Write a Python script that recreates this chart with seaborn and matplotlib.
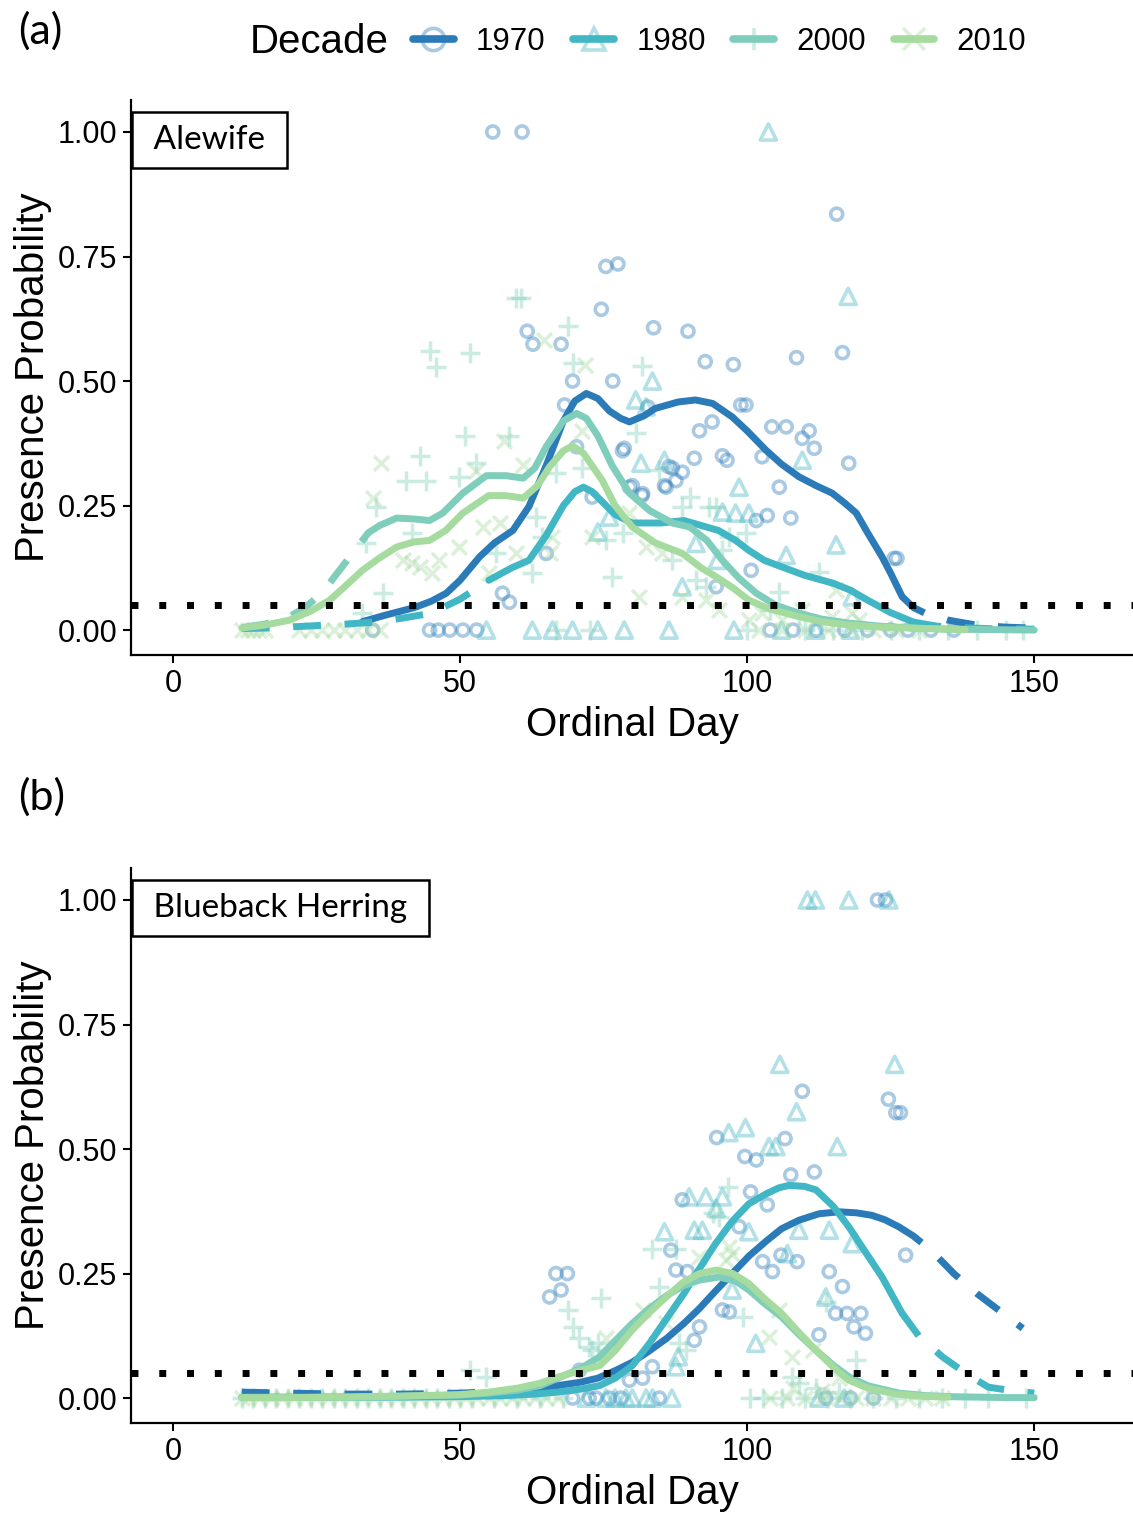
import numpy as np
import pandas as pd
import matplotlib
matplotlib.use("Agg")
import matplotlib.pyplot as plt
import seaborn as sns
from matplotlib.lines import Line2D

# decades and colours
decades = ["1970", "1980", "2000", "2010"]
colors = {"1970": "#2b7bb9", "1980": "#41b6c4", "2000": "#7fcdbb", "2010": "#a6dba0"}

# ---------------- panel (a) Alewife: fitted curves ----------------
a70_day = [33, 37, 42, 45, 47.6, 50, 53.4, 56, 59.2, 62, 65, 68, 70, 72, 74, 76, 78, 79.5, 82, 84, 88,
           91, 94, 97.4, 100, 103.3, 106, 109, 112, 114.8, 117, 119, 121, 123.5, 125, 127, 129, 131,
           135, 140, 145, 150]
a70_fit = [0.017, 0.03, 0.045, 0.058, 0.074, 0.10, 0.147, 0.175, 0.20, 0.248, 0.33, 0.42, 0.46, 0.475,
           0.465, 0.44, 0.425, 0.418, 0.43, 0.445, 0.458, 0.462, 0.455, 0.428, 0.40, 0.361, 0.333, 0.308,
           0.29, 0.275, 0.255, 0.235, 0.195, 0.147, 0.114, 0.067, 0.045, 0.034, 0.02, 0.01, 0.006, 0.004]
a80_day = [12, 16, 20, 25, 30, 35, 40, 45, 50, 55, 59, 62, 65, 68, 70, 71.5, 73, 75, 77, 80, 85, 89,
           92, 95, 98, 100.3, 103, 106, 110, 115, 118, 121, 125, 129, 133, 137, 142, 150]
a80_fit = [0.003, 0.004, 0.006, 0.009, 0.012, 0.016, 0.024, 0.034, 0.062, 0.10, 0.125, 0.14, 0.19, 0.25,
           0.278, 0.287, 0.278, 0.255, 0.232, 0.215, 0.215, 0.22, 0.21, 0.20, 0.18, 0.16, 0.14, 0.127,
           0.11, 0.094, 0.08, 0.06, 0.035, 0.016, 0.008, 0.005, 0.003, 0.002]
a00_day = [12, 16, 20, 23, 26, 29, 32, 34, 36, 39, 42, 44.7, 47, 50.5, 54.6, 58, 61, 63, 65, 68, 70.3,
           72, 74, 76.5, 79.5, 83, 87, 90, 93, 95.7, 98.5, 101.6, 105, 109, 113, 117.7, 123, 129, 135,
           142, 150]
a00_fit = [0.005, 0.012, 0.025, 0.045, 0.075, 0.12, 0.165, 0.195, 0.21, 0.225, 0.223, 0.22, 0.235,
           0.275, 0.31, 0.31, 0.305, 0.325, 0.368, 0.42, 0.435, 0.425, 0.39, 0.33, 0.275, 0.24, 0.215,
           0.207, 0.18, 0.14, 0.105, 0.074, 0.05, 0.034, 0.022, 0.014, 0.008, 0.004, 0.002, 0.001, 0.0]
a10_day = [12, 16, 20.3, 24, 27.3, 30, 33, 36, 39, 42, 44.7, 47.5, 50.5, 55, 58, 61, 63.5, 65.6, 68,
           69.6, 71.5, 74.8, 77, 80, 84, 88.7, 92, 94.6, 97.5, 100.3, 104, 109, 113, 117.7, 123, 129,
           134, 138]
a10_fit = [0.004, 0.01, 0.02, 0.038, 0.06, 0.088, 0.12, 0.145, 0.167, 0.177, 0.18, 0.2, 0.235, 0.27,
           0.27, 0.265, 0.29, 0.328, 0.36, 0.37, 0.355, 0.30, 0.25, 0.207, 0.175, 0.154, 0.125, 0.107,
           0.085, 0.06, 0.042, 0.027, 0.017, 0.01, 0.006, 0.004, 0.002, 0.001]
# observed day range of each decade (solid part of the curve)
a_obs = {"1970": (33, 127), "1980": (55, 129), "2000": (34, 150), "2010": (12, 138)}

# ---------------- panel (a) Alewife: observed proportions ----------------
a70_pt_day = [55.7, 60.8, 75.4, 77.5, 74.6, 61.7, 62.7, 67.6, 69.6, 76.6, 115.6, 116.6, 108.6, 83.7,
              89.7, 92.7, 97.6, 78.6, 68.2, 82.7, 86.4, 87.6, 85.6, 80, 81.8, 57.4, 58.6, 65, 70.3, 78.3,
              73, 98.9, 99.8, 91.7, 93.9, 104.3, 106.8, 110.8, 109.6, 111.7, 117.7, 90.8, 95.7, 96.5,
              102.6, 105.6, 87, 88.7, 85.9, 79.5, 81.7, 101.6, 103.5, 107.6, 125.6, 126.1, 94.6, 100.7,
              34.8, 44.7, 46.2, 48.2, 50.5, 52.9, 104, 108, 112, 117, 121, 125, 128, 132, 136]
a70_pt_p = [1.0, 1.0, 0.73, 0.735, 0.644, 0.60, 0.574, 0.574, 0.50, 0.50, 0.835, 0.557, 0.547, 0.607,
            0.60, 0.539, 0.533, 0.365, 0.452, 0.448, 0.328, 0.30, 0.29, 0.29, 0.274, 0.074, 0.056, 0.154,
            0.368, 0.36, 0.267, 0.452, 0.452, 0.40, 0.418, 0.408, 0.408, 0.40, 0.385, 0.365, 0.335, 0.345,
            0.35, 0.341, 0.348, 0.287, 0.325, 0.317, 0.287, 0.287, 0.27, 0.22, 0.23, 0.225, 0.144, 0.144,
            0.087, 0.12, 0, 0, 0, 0, 0, 0, 0, 0, 0, 0, 0, 0, 0, 0, 0]
a80_pt_day = [103.7, 117.6, 83.5, 80.6, 82.4, 81.5, 85.6, 98.6, 109.6, 115.5, 106.8, 95.7, 98, 100.3, 74,
              76, 94.8, 91.1, 88.7, 118.3, 54.6, 62.6, 66.1, 69.6, 74, 78.6, 86.4, 97.7, 106, 112, 118]
a80_pt_p = [1.0, 0.67, 0.50, 0.462, 0.448, 0.335, 0.341, 0.287, 0.341, 0.171, 0.15, 0.237, 0.235, 0.235,
            0.197, 0.227, 0.14, 0.174, 0.087, 0.067, 0, 0, 0, 0, 0, 0, 0, 0, 0, 0, 0]
a00_pt_day = [59.8, 60.6, 44.7, 45.9, 51.7, 68.8, 69.6, 81.7, 50.8, 58.6, 43, 40.6, 44.1, 49.9, 52.8,
              80.6, 41.7, 35.4, 33.7, 36.6, 33, 56.3, 63.3, 64.3, 66.8, 62.6, 76.5, 75.5, 71.3, 84.7,
              88.7, 90, 93.4, 94.6, 78.3, 87, 96.9, 99.8, 95.7, 112.5, 105.6, 91.1, 92.9, 104, 109,
              66.8, 72.7, 100, 110, 115, 120, 125, 130, 135, 140, 145, 148]
a00_pt_p = [0.666, 0.666, 0.56, 0.529, 0.556, 0.61, 0.536, 0.53, 0.39, 0.39, 0.35, 0.30, 0.30, 0.308,
            0.335, 0.395, 0.195, 0.247, 0.174, 0.074, 0.034, 0.154, 0.227, 0.187, 0.315, 0.114, 0.107,
            0.18, 0.325, 0.321, 0.247, 0.267, 0.247, 0.247, 0.195, 0.14, 0.187, 0.195, 0.16, 0.117,
            0.076, 0.10, 0.087, 0.04, 0.03, 0, 0, 0, 0, 0, 0, 0, 0, 0, 0, 0, 0]
a10_pt_day = [64.7, 71.7, 57.7, 60.9, 36.3, 34.8, 40, 41.7, 43, 46.4, 45.2, 49.9, 71.3, 82.4, 85.2, 81.2,
              88.7, 92.9, 95.1, 100.3, 115.5, 65.6, 73, 79.5, 54, 56.9, 59.8, 66.1, 55.1, 52.8, 102.6,
              106.1, 109.6, 114.8, 118.3, 119.5,
              12, 13, 14, 15, 16, 22, 24, 26, 28, 30, 32, 34, 36, 102, 106, 110, 114, 118, 122, 126, 130]
a10_pt_p = [0.582, 0.532, 0.38, 0.331, 0.335, 0.265, 0.14, 0.134, 0.127, 0.14, 0.114, 0.167, 0.40, 0.167,
            0.154, 0.067, 0.067, 0.06, 0.04, 0.02, 0.08, 0.154, 0.187, 0.235, 0.207, 0.215, 0.154, 0.187,
            0.114, 0.32, 0.034, 0.02, 0.04, 0.027, 0.034, 0.02,
            0, 0, 0, 0, 0, 0, 0, 0, 0, 0, 0, 0, 0, 0, 0, 0, 0, 0, 0, 0, 0]

# ---------------- panel (b) Blueback Herring: fitted curves ----------------
b70_day = [12, 20, 30, 40, 50, 58, 63, 67, 71, 74, 77, 80, 83, 86, 89, 91.7, 94.5, 97.4, 100.3, 103.3,
           106, 109, 112.5, 116, 119, 121.7, 124, 126.4, 129, 132, 136, 140, 144, 148]
b70_fit = [0.012, 0.01, 0.008, 0.008, 0.01, 0.014, 0.018, 0.025, 0.032, 0.04, 0.055, 0.072, 0.095, 0.12,
           0.15, 0.18, 0.215, 0.25, 0.285, 0.315, 0.34, 0.357, 0.37, 0.374, 0.372, 0.367, 0.358, 0.344,
           0.325, 0.297, 0.25, 0.21, 0.175, 0.14]
b80_day = [12, 20, 30, 40, 50, 58, 63, 67, 71, 74.3, 77, 80, 83, 86, 89, 91.7, 94.5, 97.4, 100.3, 103.3,
           105.5, 107.3, 110, 112, 115, 117.7, 120.5, 123.5, 127, 130, 134, 138, 142, 146, 150]
b80_fit = [0.002, 0.002, 0.002, 0.002, 0.003, 0.005, 0.008, 0.012, 0.018, 0.025, 0.04, 0.065, 0.11, 0.16,
           0.21, 0.26, 0.31, 0.355, 0.39, 0.41, 0.422, 0.427, 0.425, 0.418, 0.385, 0.344, 0.295, 0.243,
           0.17, 0.123, 0.083, 0.05, 0.022, 0.015, 0.01]
b00_day = [12, 20, 30, 40, 50, 55, 60, 64, 67, 70.8, 74.3, 77, 80, 83, 85.9, 88.8, 91.7, 95.1, 98,
           100.3, 103, 106, 109, 112, 115, 117.7, 121, 126.4, 131, 135, 140, 145, 150]
b00_fit = [0.001, 0.001, 0.002, 0.004, 0.006, 0.01, 0.016, 0.025, 0.04, 0.058, 0.083, 0.115, 0.15, 0.18,
           0.205, 0.225, 0.237, 0.243, 0.235, 0.217, 0.19, 0.163, 0.128, 0.096, 0.066, 0.043, 0.025,
           0.01, 0.005, 0.003, 0.002, 0.001, 0.001]
b10_day = [12, 20, 30, 40, 50, 55, 60, 64, 67, 70.8, 74.3, 77, 80, 83, 85.9, 88.8, 91.7, 94.6, 97.5,
           100.3, 103, 106, 109, 112, 115, 117.7, 121, 126, 130, 135]
b10_fit = [0.001, 0.001, 0.002, 0.004, 0.007, 0.012, 0.02, 0.03, 0.042, 0.055, 0.065, 0.095, 0.137,
           0.172, 0.203, 0.232, 0.25, 0.257, 0.25, 0.23, 0.2, 0.17, 0.132, 0.096, 0.062, 0.036, 0.02,
           0.008, 0.004, 0.002]
b_obs = {"1970": (58, 126.4), "1980": (12, 127), "2000": (12, 150), "2010": (12, 135)}

# ---------------- panel (b) Blueback Herring: observed proportions ----------------
b70_pt_day = [122.7, 124.1, 109.6, 124.6, 125.9, 126.7, 94.7, 99.6, 101.6, 106.6, 66.7, 68.7, 65.6, 67.6,
              88.7, 100.6, 103.5, 86.7, 87.6, 89.6, 102.7, 104.4, 95.7, 96.9, 91.7, 90.8, 98.6, 83.5,
              81.8, 79.5, 70.8, 107.6, 111.7, 105.9, 108.7, 114.3, 116.6, 127.6, 115.4, 117.4, 119.8,
              118.6, 120.6, 112.5, 69.6, 72.5, 73.7, 76, 78, 84.7, 113.7, 118, 122]
b70_pt_p = [1.0, 1.0, 0.616, 0.60, 0.573, 0.573, 0.523, 0.485, 0.478, 0.521, 0.25, 0.25, 0.203, 0.217,
            0.398, 0.414, 0.388, 0.297, 0.257, 0.254, 0.274, 0.254, 0.177, 0.173, 0.143, 0.116, 0.344,
            0.063, 0.04, 0.036, 0.056, 0.448, 0.454, 0.287, 0.274, 0.254, 0.224, 0.287, 0.17, 0.17, 0.17,
            0.143, 0.13, 0.127, 0, 0, 0, 0, 0, 0, 0, 0, 0]
b80_pt_day = [110.5, 111.9, 117.7, 124.7, 105.7, 125.7, 108.6, 99.7, 96.8, 103.8, 105, 115.7, 89.9, 92.8,
              95.7, 94.6, 85.6, 90.8, 92.2, 100.3, 97.4, 101.5, 87.6, 109, 114.3, 118.3, 107, 113.7, 88,
              72, 75.4, 77, 78.9, 80, 82.4, 83.5, 86.9, 112.5, 116.9]
b80_pt_p = [1.0, 1.0, 1.0, 1.0, 0.67, 0.67, 0.575, 0.543, 0.533, 0.505, 0.505, 0.505, 0.404, 0.404, 0.404,
            0.381, 0.334, 0.337, 0.337, 0.334, 0.217, 0.11, 0.063, 0.337, 0.337, 0.31, 0.29, 0.203, 0.083,
            0, 0, 0, 0, 0, 0, 0, 0, 0, 0]
b00_pt_day = [74.6, 68.8, 69.6, 70.8, 72.5, 74, 84.7, 83.5, 96.6, 94, 95.1, 99.2, 88.2, 89.3, 54.6, 51.7,
              65.6, 73, 87.6, 113.7, 118.9, 107.9, 109, 112, 116,
              12, 14, 16, 18, 20, 22, 24, 26, 28, 30, 32, 34, 36, 38, 40, 42, 44, 46, 48, 50, 52, 56, 60,
              64, 68, 100.5, 102.7, 106, 110, 114, 118, 122, 126, 130, 134, 138, 142, 148.6]
b00_pt_p = [0.2, 0.177, 0.143, 0.12, 0.103, 0.11, 0.224, 0.30, 0.424, 0.371, 0.364, 0.163, 0.11, 0.096,
            0.043, 0.056, 0.036, 0.096, 0.30, 0.193, 0.076, 0.043, 0.03, 0.02, 0.012,
            0, 0, 0, 0, 0, 0, 0, 0, 0, 0, 0, 0, 0, 0, 0, 0, 0, 0, 0, 0, 0, 0, 0,
            0, 0, 0, 0, 0, 0, 0, 0, 0, 0, 0, 0, 0, 0, 0]
b10_pt_day = [81.8, 103.8, 96.3, 97.4, 75.4, 91.7, 96.9, 105.6, 107.9, 111.4, 116, 85.9, 108, 113,
              12, 13, 15, 17, 19, 21, 23, 25, 27, 29, 31, 33, 35, 37, 39, 41, 43, 45, 47, 49, 51, 53, 55,
              57, 59, 61, 63, 65, 67, 104, 107, 110, 113, 116, 119, 122, 125, 128, 131, 134]
b10_pt_p = [0.177, 0.123, 0.277, 0.29, 0.12, 0.284, 0.304, 0.177, 0.083, 0.096, 0.04, 0.15, 0.02, 0.015,
            0, 0, 0, 0, 0, 0, 0, 0, 0, 0, 0, 0, 0, 0, 0, 0, 0, 0, 0, 0, 0, 0, 0,
            0, 0, 0, 0, 0, 0, 0, 0, 0, 0, 0, 0, 0, 0, 0, 0, 0]

x_ticks = [0, 50, 100, 150]
y_ticks = [0.00, 0.25, 0.50, 0.75, 1.00]
threshold = 0.05

markers = {"1970": "o", "1980": "^", "2000": "+", "2010": "x"}
msize = {"1970": 75, "1980": 135, "2000": 200, "2010": 115}

sns.set_style("ticks")
plt.rcParams['font.family'] = ['Liberation Sans', 'DejaVu Sans']
plt.rcParams.update({"text.color": "black", "axes.labelcolor": "black",
                     "xtick.color": "black", "ytick.color": "black"})
label_font = ['Lato', 'DejaVu Sans']


def make_frames(days, values):
    return {d: pd.DataFrame({"day": x, "p": y}) for d, x, y in zip(decades, days, values)}


fits_a = make_frames([a70_day, a80_day, a00_day, a10_day], [a70_fit, a80_fit, a00_fit, a10_fit])
pts_a = make_frames([a70_pt_day, a80_pt_day, a00_pt_day, a10_pt_day],
                    [a70_pt_p, a80_pt_p, a00_pt_p, a10_pt_p])
fits_b = make_frames([b70_day, b80_day, b00_day, b10_day], [b70_fit, b80_fit, b00_fit, b10_fit])
pts_b = make_frames([b70_pt_day, b80_pt_day, b00_pt_day, b10_pt_day],
                    [b70_pt_p, b80_pt_p, b00_pt_p, b10_pt_p])


def draw_panel(ax, fits, pts, obs, species):
    # observed points
    for d in decades:
        df = pts[d]
        if markers[d] in ("o", "^"):
            sns.scatterplot(data=df, x="day", y="p", ax=ax, marker=markers[d], s=msize[d],
                            color=colors[d], facecolors="none", edgecolor=colors[d],
                            linewidth=2.6, alpha=0.4, legend=False, zorder=2)
        else:
            sns.scatterplot(data=df, x="day", y="p", ax=ax, marker=markers[d], s=msize[d],
                            color=colors[d], linewidth=2.5, alpha=0.4, legend=False, zorder=2)
    # fitted curves, solid over observed range, dashed outside
    dash = (0, (4.0, 3.4))
    for d in decades:
        df = fits[d]
        lo, hi = obs[d]
        parts = [(df[df.day <= lo], dash),
                 (df[(df.day >= lo) & (df.day <= hi)], "-"),
                 (df[df.day >= hi], dash)]
        for sub, ls in parts:
            if len(sub) < 2:
                continue
            sns.lineplot(data=sub, x="day", y="p", ax=ax, color=colors[d], lw=5.0,
                         linestyle=ls, estimator=None, sort=False, zorder=3)
    ax.axhline(threshold, color="black", lw=5, linestyle=(0, (1, 3)), zorder=4)

    ax.set_xlim(-7.3, 167.2)
    ax.set_ylim(-0.05, 1.065)
    ax.set_xticks(x_ticks)
    ax.set_yticks(y_ticks)
    ax.set_yticklabels([f"{v:.2f}" for v in y_ticks])
    ax.tick_params(labelsize=22, length=6, width=1.5, pad=4)
    ax.set_xlabel("Ordinal Day", fontsize=29, labelpad=5)
    ax.set_ylabel("Presence Probability", fontsize=29, labelpad=4)
    for s in ["left", "bottom"]:
        ax.spines[s].set_linewidth(1.6)
        ax.spines[s].set_color("black")
    sns.despine(ax=ax)
    ax.text(0.014, 0.984, " " + species + " ", transform=ax.get_yaxis_transform(), fontsize=24,
            family=label_font, ha="left", va="center", zorder=6,
            bbox=dict(boxstyle="square,pad=0.4", fc="white", ec="black", lw=1.8))


fig = plt.figure(figsize=(11.33, 15.13), dpi=100)
ax_a = fig.add_axes([131 / 1133, 1 - 655 / 1513, 1 - 131 / 1133, (655 - 99.6) / 1513])
ax_b = fig.add_axes([131 / 1133, 1 - 1423 / 1513, 1 - 131 / 1133, (1423 - 867.6) / 1513])

draw_panel(ax_a, fits_a, pts_a, a_obs, "Alewife")
draw_panel(ax_b, fits_b, pts_b, b_obs, "Blueback Herring")

fig.text(18 / 1133, 1 - 31 / 1513, "(a)", fontsize=31, family=label_font, ha="left", va="center")
fig.text(18 / 1133, 1 - 797 / 1513, "(b)", fontsize=31, family=label_font, ha="left", va="center")

# legend across the top
handles = []
for d in decades:
    line = Line2D([], [], color=colors[d], lw=5.5)
    mk = Line2D([], [], ls="", marker=markers[d], color=colors[d], mfc="none", mec=colors[d],
                ms=16, mew=2.6, alpha=0.4)
    handles.append((line, mk))
fig.text(250 / 1133, 1 - 42 / 1513, "Decade", fontsize=29, ha="left", va="center")
fig.legend(handles, decades, loc="center left", bbox_to_anchor=(413 / 1133, 1 - 42 / 1513),
           ncol=4, frameon=False, fontsize=22.5, handlelength=1.3, handletextpad=0.72,
           columnspacing=0.88, borderaxespad=0, borderpad=0)

fig.savefig("out.png", dpi=100)
